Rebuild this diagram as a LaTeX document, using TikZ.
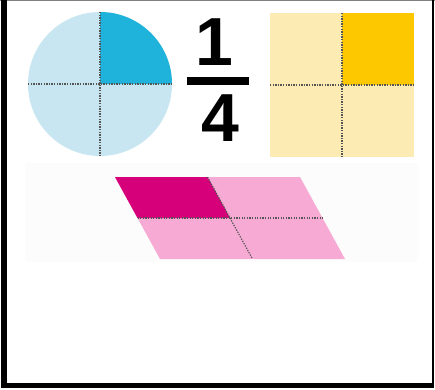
\documentclass[tikz,border=0pt]{standalone}
\usepackage{fontspec}
\setmainfont{Liberation Sans}
\definecolor{bluelight}{HTML}{C8E6F2}
\definecolor{bluedark}{HTML}{1FB3DC}
\definecolor{yellowlight}{HTML}{FDEBB4}
\definecolor{yellowdark}{HTML}{FDC800}
\definecolor{pinklight}{HTML}{F7AAD4}
\definecolor{pinkdark}{HTML}{D6007A}
\definecolor{dotcol}{HTML}{555555}
\definecolor{strip}{HTML}{FCFCFC}
\tikzset{
  divider/.style={draw=dotcol, line width=1.2pt, dash pattern=on 1.3pt off 1.3pt},
  digit/.style={inner sep=0pt, font=\fontsize{68}{68}\selectfont\bfseries},
  frameline/.style={fill=black}
}
\begin{document}
\begin{tikzpicture}[x=1pt,y=-1pt]
\useasboundingbox (0,0) rectangle (435,389);
\fill[white] (0,0) rectangle (435,389);
% faint strip
\fill[strip] (25,163) rectangle (418,262);
% circle
\fill[bluelight] (100,84) circle[radius=72];
\fill[bluedark] (100,84) -- (172,84) arc[start angle=0, end angle=-90, radius=72] -- cycle;
\coordinate (cl) at (28,84); \coordinate (cr) at (172,84);
\coordinate (ct) at (100,12); \coordinate (cb) at (100,156);
\draw[divider] (cl) -- (cr);
\draw[divider] (ct) -- (cb);
% fraction
\node[digit] (one) at (214,42.5) {1};
\fill[black] (187,77) rectangle (249,85);
\node[digit] (four) at (220,118.5) {4};
% square
\fill[yellowlight] (270,13) rectangle (414,157);
\fill[yellowdark] (342,13) rectangle (414,85);
\coordinate (sl) at (270,85); \coordinate (sr) at (414,85);
\coordinate (st) at (342,13); \coordinate (sb) at (342,157);
\draw[divider] (sl) -- (sr);
\draw[divider] (st) -- (sb);
% parallelogram
\fill[pinklight] (115,177) -- (300,177) -- (345,259) -- (160,259) -- cycle;
\fill[pinkdark] (115,177) -- (207.5,177) -- (230,218) -- (137.5,218) -- cycle;
\coordinate (pl) at (137.5,218); \coordinate (pr) at (322.5,218);
\coordinate (pt) at (207.5,177); \coordinate (pb) at (252.5,259);
\draw[divider] (pl) -- (pr);
\draw[divider] (pt) -- (pb);
% frame
\fill[gray] (0,0) rectangle (435,1);
\fill[frameline] (1,0) rectangle (7,388);
\fill[frameline] (1,383) rectangle (434,388);
\fill[frameline] (432,0) rectangle (434,388);
\end{tikzpicture}
\end{document}
